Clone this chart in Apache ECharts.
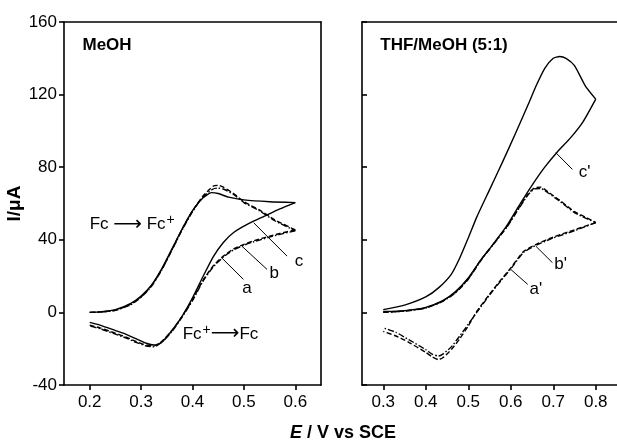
<!DOCTYPE html>
<html lang="en">
<head>
    <meta charset="UTF-8">
    <title>CV Fc</title>
    <script src="https://cdn.jsdelivr.net/npm/echarts@6/dist/echarts.min.js"></script>
    <style>
        html, body { margin: 0; padding: 0; background: #fff; }
        #chart { width: 617px; height: 446px; }
    </style>
</head>
<body>
<div id="chart"></div>
<script>
    // tick values
    var leftTicks = [0.2, 0.3, 0.4, 0.5, 0.6];
    var rightTicks = [0.3, 0.4, 0.5, 0.6, 0.7, 0.8];

    // MeOH panel, [E, I]
    var cFwd = [[0.20, 0.0], [0.22, 0.3], [0.25, 1.5], [0.28, 5], [0.30, 9], [0.32, 15], [0.34, 24], [0.36, 35], [0.38, 46], [0.40, 56], [0.42, 63], [0.437, 66], [0.45, 65.5], [0.47, 63.5], [0.50, 62], [0.55, 61], [0.60, 60.5]];
    var cRev = [[0.60, 60.5], [0.57, 57], [0.54, 53], [0.51, 49], [0.48, 44], [0.46, 38.5], [0.44, 30.5], [0.42, 19.5], [0.40, 8], [0.38, -2], [0.36, -10], [0.34, -16.5], [0.325, -18], [0.31, -17], [0.29, -14.5], [0.27, -12], [0.25, -10], [0.22, -7], [0.20, -5.5]];
    var bFwd = [[0.20, 0], [0.22, 0.2], [0.25, 1.2], [0.28, 4.5], [0.30, 8.5], [0.32, 14.5], [0.34, 23.5], [0.36, 34.5], [0.38, 46], [0.40, 56], [0.42, 64], [0.44, 69.5], [0.45, 70], [0.46, 69], [0.48, 65.5], [0.50, 61], [0.53, 56.5], [0.56, 51], [0.60, 45.5]];
    var bRev = [[0.60, 45.5], [0.57, 43.5], [0.55, 42], [0.52, 39.5], [0.50, 37.5], [0.48, 35], [0.46, 31], [0.44, 25.5], [0.42, 17.5], [0.40, 7], [0.38, -2], [0.36, -10], [0.34, -16], [0.325, -18.5], [0.31, -18], [0.29, -16], [0.27, -13.5], [0.25, -11.5], [0.22, -8.5], [0.20, -7]];
    var aFwd = [[0.20, 0], [0.22, 0.2], [0.25, 1.1], [0.28, 4.3], [0.30, 8.3], [0.32, 14.3], [0.34, 23.3], [0.36, 34.3], [0.38, 45.5], [0.40, 55.5], [0.42, 63.5], [0.44, 68], [0.45, 68.5], [0.46, 68], [0.48, 65], [0.50, 60.5], [0.53, 56], [0.56, 50.5], [0.60, 45]];
    var aRev = [[0.60, 45], [0.57, 43], [0.55, 41.5], [0.52, 39], [0.50, 37], [0.48, 34.5], [0.46, 30.5], [0.44, 25], [0.42, 17], [0.40, 6.5], [0.38, -2.5], [0.36, -10.5], [0.34, -16.5], [0.325, -19], [0.31, -18.5], [0.29, -16.5], [0.27, -14], [0.25, -12], [0.22, -9], [0.20, -7.5]];

    // THF/MeOH panel
    var c2Fwd = [[0.30, 1.5], [0.35, 4], [0.40, 8.5], [0.43, 13.5], [0.46, 21], [0.48, 30], [0.50, 41], [0.52, 52.5], [0.55, 67.5], [0.58, 82.5], [0.61, 98], [0.64, 114], [0.66, 125], [0.68, 134.5], [0.70, 140], [0.715, 141], [0.73, 140], [0.75, 136], [0.775, 125], [0.80, 117.5]];
    var c2Rev = [[0.80, 117.5], [0.77, 105], [0.74, 96], [0.71, 88.5], [0.68, 80], [0.65, 70], [0.62, 59], [0.59, 47.5], [0.56, 38], [0.53, 29], [0.50, 19], [0.47, 11.5], [0.44, 6.5], [0.40, 2.8], [0.35, 1], [0.30, 0.5]];
    var b2Fwd = [[0.30, 0], [0.35, 0.8], [0.40, 2.5], [0.44, 6.3], [0.47, 11], [0.50, 18.5], [0.53, 29], [0.56, 38], [0.59, 47], [0.62, 58], [0.64, 65], [0.655, 68.5], [0.67, 69], [0.69, 66], [0.714, 62], [0.75, 55.5], [0.78, 52], [0.80, 49.5]];
    var b2Rev = [[0.80, 49.5], [0.75, 45.5], [0.70, 41.5], [0.66, 37.5], [0.63, 33.5], [0.60, 24.5], [0.577, 18], [0.55, 10], [0.52, 0.5], [0.50, -7.5], [0.48, -14.5], [0.46, -20.5], [0.44, -25], [0.43, -26], [0.415, -24.5], [0.40, -22], [0.36, -16.5], [0.33, -13], [0.30, -10.5]];
    var a2Fwd = [[0.30, 0], [0.35, 0.7], [0.40, 2.4], [0.44, 6.1], [0.47, 10.8], [0.50, 18.2], [0.53, 28.7], [0.56, 37.7], [0.59, 46.7], [0.62, 57.5], [0.64, 64.5], [0.655, 68], [0.67, 68.3], [0.69, 65.5], [0.714, 61.5], [0.75, 55], [0.78, 51.5], [0.80, 49.5]];
    var a2Rev = [[0.80, 49.5], [0.75, 45], [0.70, 41], [0.66, 37], [0.63, 33], [0.60, 24], [0.577, 17.5], [0.55, 9.5], [0.52, 0], [0.50, -6.5], [0.48, -13], [0.46, -19], [0.44, -23], [0.43, -24], [0.415, -23], [0.40, -20.5], [0.36, -15], [0.33, -11], [0.30, -8.5]];

    // curve tags: leader start/end, label centre
    var leftLeaders = [[[0.519, 49.4], [0.584, 31]], [[0.496, 36.5], [0.545, 23.7]], [[0.457, 30], [0.499, 18.2]]];
    var leftTags = [{name: 'c', value: [0.607, 28]}, {name: 'b', value: [0.559, 21.5]}, {name: 'a', value: [0.506, 13.2]}];
    var rightLeaders = [[[0.706, 88], [0.745, 78.8]], [[0.659, 36.5], [0.698, 27.4]], [[0.600, 23.7], [0.640, 15.4]]];
    var rightTags = [{name: "c'", value: [0.774, 77]}, {name: "b'", value: [0.7175, 26.4]}, {name: "a'", value: [0.659, 12.7]}];

    var FONT = '"Liberation Sans", Arial, sans-serif';
    var dashB = [5, 2.5];
    var dashA = [6, 2, 1.5, 2];

    var chart = echarts.init(document.getElementById('chart'));

    function curve(data, dash, xi, yi) {
        return {
            type: 'line', data: data, xAxisIndex: xi, yAxisIndex: yi,
            smooth: 0.2, symbol: 'none', silent: true,
            lineStyle: {color: '#000', width: 1.4, type: dash}
        };
    }

    function leader(seg, xi, yi) {
        return {
            type: 'line', data: seg, xAxisIndex: xi, yAxisIndex: yi,
            symbol: 'none', silent: true,
            lineStyle: {color: '#000', width: 1}
        };
    }

    function tags(data, xi, yi) {
        return {
            type: 'scatter', data: data, xAxisIndex: xi, yAxisIndex: yi,
            symbolSize: 0, silent: true, itemStyle: {opacity: 1},
            label: {
                show: true, position: 'inside', color: '#000', opacity: 1,
                fontFamily: FONT, fontSize: 17,
                formatter: function (p) { return p.name; }
            }
        };
    }

    function note(text, x, y, xi, yi, bold) {
        return {
            type: 'scatter', data: [[x, y]], xAxisIndex: xi, yAxisIndex: yi,
            symbolSize: 0, silent: true, itemStyle: {opacity: 1},
            label: {
                show: true, position: 'right', distance: 0, color: '#000', opacity: 1,
                fontFamily: FONT, fontSize: 17, fontWeight: bold ? 'bold' : 'normal',
                formatter: text,
                rich: {
                    ar: {fontFamily: '"DejaVu Sans"', fontSize: 20, color: '#000'},
                    s: {fontSize: 14, color: '#000', padding: [0, 0, 9, 1]}
                }
            }
        };
    }

    var lineStyle = {color: '#000', width: 1.6};

    function xBottom(grid, min, max, ticks) {
        return {
            type: 'value', gridIndex: grid, position: 'bottom', min: min, max: max,
            axisLine: {show: true, onZero: false, lineStyle: lineStyle},
            axisTick: {show: true, inside: false, length: 5, customValues: ticks, lineStyle: lineStyle},
            axisLabel: {
                show: true, customValues: ticks, margin: 9, color: '#000',
                fontFamily: FONT, fontSize: 17,
                formatter: function (v) { return v.toFixed(1); }
            },
            splitLine: {show: false}
        };
    }

    function frame(grid, pos, min, max) {
        return {
            type: 'value', gridIndex: grid, position: pos, min: min, max: max,
            axisLine: {show: true, onZero: false, lineStyle: lineStyle},
            axisTick: {show: false}, axisLabel: {show: false}, splitLine: {show: false}
        };
    }

    var option = {
        backgroundColor: '#fff',
        animation: false,
        grid: [
            {left: 64, top: 22, width: 257, height: 363},
            {left: 362, top: 22, width: 256, height: 363}
        ],
        xAxis: [
            xBottom(0, 0.15, 0.65, leftTicks),
            frame(0, 'top', 0.15, 0.65),
            xBottom(1, 0.25, 0.85, rightTicks),
            frame(1, 'top', 0.25, 0.85)
        ],
        yAxis: [
            {
                type: 'value', gridIndex: 0, position: 'left', min: -40, max: 160, interval: 40,
                name: 'I/\u03bcA', nameLocation: 'middle', nameGap: 40,
                nameTextStyle: {color: '#000', fontFamily: FONT, fontSize: 19, fontWeight: 'bold'},
                axisLine: {show: true, onZero: false, lineStyle: lineStyle},
                axisTick: {show: true, inside: false, length: 5, lineStyle: lineStyle},
                axisLabel: {show: true, margin: 7, color: '#000', fontFamily: FONT, fontSize: 17},
                splitLine: {show: false}
            },
            frame(0, 'right', -40, 160),
            {
                type: 'value', gridIndex: 1, position: 'left', min: -40, max: 160, interval: 40,
                axisLine: {show: true, onZero: false, lineStyle: lineStyle},
                axisTick: {show: true, inside: true, length: 5, lineStyle: lineStyle},
                axisLabel: {show: false},
                splitLine: {show: false}
            }
        ],
        graphic: [{
            type: 'text', left: 290, top: 424,
            style: {
                text: '{i|E} / V vs SCE',
                font: 'bold 18px ' + FONT, fill: '#000',
                rich: {i: {fontStyle: 'italic', fontWeight: 'bold', fontSize: 18, fontFamily: FONT}}
            }
        }],
        series: [
            curve(cFwd, 'solid', 0, 0), curve(cRev, 'solid', 0, 0),
            curve(bFwd, dashB, 0, 0), curve(bRev, dashB, 0, 0),
            curve(aFwd, dashA, 0, 0), curve(aRev, dashA, 0, 0),
            curve(c2Fwd, 'solid', 2, 2), curve(c2Rev, 'solid', 2, 2),
            curve(b2Fwd, dashB, 2, 2), curve(b2Rev, dashB, 2, 2),
            curve(a2Fwd, dashA, 2, 2), curve(a2Rev, dashA, 2, 2),
            leader(leftLeaders[0], 0, 0), leader(leftLeaders[1], 0, 0), leader(leftLeaders[2], 0, 0),
            leader(rightLeaders[0], 2, 2), leader(rightLeaders[1], 2, 2), leader(rightLeaders[2], 2, 2),
            tags(leftTags, 0, 0), tags(rightTags, 2, 2),
            note('MeOH', 0.186, 147, 0, 0, true),
            note('THF/MeOH (5:1)', 0.293, 147, 2, 2, true),
            note('Fc {ar|\u27f6} Fc{s|+}', 0.2, 48.5, 0, 0, false),
            note('Fc{s|+}{ar|\u27f6}Fc', 0.381, -12, 0, 0, false)
        ]
    };
    chart.setOption(option);
</script>
</body>
</html>
